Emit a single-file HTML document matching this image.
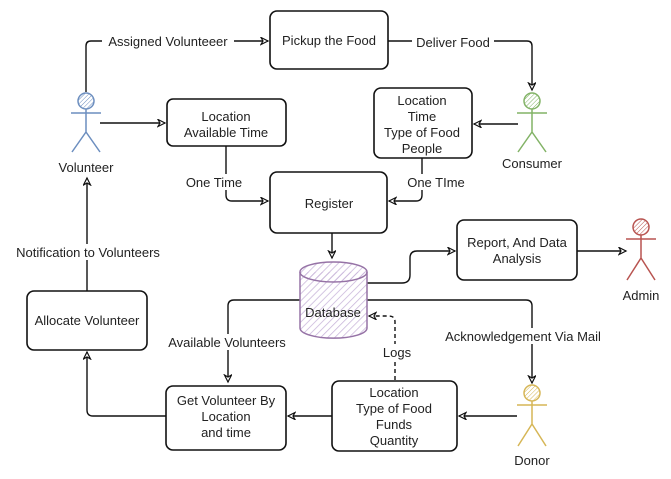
<!DOCTYPE html>
<html><head><meta charset="utf-8"><style>
html,body{margin:0;padding:0;background:#fff}
svg{display:block}
text{font-family:"Liberation Sans",sans-serif;font-size:13px;fill:#222;text-anchor:middle}
.b{fill:#fff;stroke:#111;stroke-width:1.6}
.l{fill:none;stroke:#111;stroke-width:1.4}
.lb{fill:#fff;stroke:none}
</style></head><body>
<svg width="671" height="479" viewBox="0 0 671 479" xmlns="http://www.w3.org/2000/svg">
<defs>
<marker id="a" markerWidth="10" markerHeight="10" refX="8" refY="4" orient="auto" markerUnits="userSpaceOnUse">
<path d="M1,0.5 L8,4 L1,7.5 L3,4 Z" fill="#fff" stroke="#111" stroke-width="1.2"/></marker>
<pattern id="hp" width="5" height="5" patternUnits="userSpaceOnUse" patternTransform="rotate(45)"><line x1="0" y1="0" x2="0" y2="5" stroke="#c7b3d9" stroke-width="1.5"/></pattern>
<pattern id="hb" width="3" height="3" patternUnits="userSpaceOnUse" patternTransform="rotate(45)"><line x1="0" y1="0" x2="0" y2="3" stroke="#6c8ebf" stroke-width="1"/></pattern>
<pattern id="hg" width="3" height="3" patternUnits="userSpaceOnUse" patternTransform="rotate(45)"><line x1="0" y1="0" x2="0" y2="3" stroke="#82b366" stroke-width="1"/></pattern>
<pattern id="hr" width="3" height="3" patternUnits="userSpaceOnUse" patternTransform="rotate(45)"><line x1="0" y1="0" x2="0" y2="3" stroke="#b85450" stroke-width="1"/></pattern>
<pattern id="hy" width="3" height="3" patternUnits="userSpaceOnUse" patternTransform="rotate(45)"><line x1="0" y1="0" x2="0" y2="3" stroke="#d6b656" stroke-width="1"/></pattern>
</defs>

<path class="l" d="M86,92 V46 Q86,41 91,41 H268" marker-end="url(#a)"/>
<rect class="lb" x="102" y="33" width="132" height="16"/>
<text x="168" y="46">Assigned Volunteeer</text>
<path class="l" d="M388,41 H527 Q532,41 532,46 V90" marker-end="url(#a)"/>
<rect class="lb" x="412" y="34" width="82" height="16"/>
<text x="453" y="47">Deliver Food</text>
<path class="l" d="M100,123 H165" marker-end="url(#a)"/>
<path class="l" d="M518,124 H474" marker-end="url(#a)"/>
<path class="l" d="M226,146 V195 Q226,201 232,201 H268" marker-end="url(#a)"/>
<rect class="lb" x="184" y="174" width="62" height="16"/>
<text x="214" y="187">One Time</text>
<path class="l" d="M422,158 V195 Q422,201 416,201 H389" marker-end="url(#a)"/>
<rect class="lb" x="403" y="174" width="67" height="16"/>
<text x="436" y="187">One TIme</text>
<path class="l" d="M332,233 V258" marker-end="url(#a)"/>
<path class="l" d="M367,283 H402 Q410,283 410,275 V258 Q410,251 417,251 H455" marker-end="url(#a)"/>
<path class="l" d="M577,251 H626" marker-end="url(#a)"/>
<path class="l" d="M300,300 H234 Q228,300 228,306 V382" marker-end="url(#a)"/>
<rect class="lb" x="161" y="334" width="132" height="16"/>
<text x="227" y="347">Available Volunteers</text>
<path class="l" d="M367,300 H526 Q532,300 532,306 V383" marker-end="url(#a)"/>
<rect class="lb" x="436" y="328" width="174" height="16"/>
<text x="523" y="341">Acknowledgement Via Mail</text>
<path class="l" d="M517,416 H459" marker-end="url(#a)"/>
<path class="l" d="M332,416 H288" marker-end="url(#a)"/>
<path class="l" d="M395,380 V322 Q395,316 389,316 H369" stroke-dasharray="4,3" marker-end="url(#a)"/>
<rect class="lb" x="380" y="344" width="34" height="16"/>
<text x="397" y="357">Logs</text>
<path class="l" d="M166,416 H93 Q87,416 87,410 V352" marker-end="url(#a)"/>
<path class="l" d="M87,291 V178" marker-end="url(#a)"/>
<rect class="lb" x="8" y="244" width="162" height="16"/>
<text x="88" y="257">Notification to Volunteers</text>

<rect class="b" x="270" y="11" width="118" height="58" rx="7"/>
<text x="329" y="45">Pickup the Food</text>
<rect class="b" x="167" y="99" width="119" height="47" rx="6"/>
<text x="226" y="121">Location</text><text x="226" y="137">Available Time</text>
<rect class="b" x="374" y="88" width="98" height="70" rx="7"/>
<text x="422" y="105">Location</text><text x="422" y="121">Time</text><text x="422" y="137">Type of Food</text><text x="422" y="153">People</text>
<rect class="b" x="270" y="172" width="117" height="61" rx="7"/>
<text x="329" y="208">Register</text>
<rect class="b" x="457" y="220" width="120" height="60" rx="7"/>
<text x="517" y="247">Report, And Data</text><text x="517" y="263">Analysis</text>
<rect class="b" x="27" y="291" width="120" height="59" rx="7"/>
<text x="87" y="325">Allocate Volunteer</text>
<rect class="b" x="166" y="386" width="120" height="64" rx="7"/>
<text x="226" y="405">Get Volunteer By</text><text x="226" y="421">Location</text><text x="226" y="437">and time</text>
<rect class="b" x="332" y="381" width="125" height="70" rx="7"/>
<text x="394" y="397">Location</text><text x="394" y="413">Type of Food</text><text x="394" y="429">Funds</text><text x="394" y="445">Quantity</text>

<g stroke="#9673a6" stroke-width="1.5">
<path d="M300,272 V328 A33,10 0 0 0 367,328 V272" fill="url(#hp)"/>
<ellipse cx="333.5" cy="272" rx="33.5" ry="10" fill="url(#hp)"/>
</g>
<text x="333" y="317">Database</text>

<g fill="none" stroke-width="1.5">
<g stroke="#6c8ebf"><circle cx="86" cy="101" r="8" fill="url(#hb)"/><path d="M86,109 V132 M71,113 H101 M86,132 L72,152 M86,132 L100,152"/></g>
<g stroke="#82b366"><circle cx="532" cy="101" r="8" fill="url(#hg)"/><path d="M532,109 V132 M517,113 H547 M532,132 L518,152 M532,132 L546,152"/></g>
<g stroke="#b85450"><circle cx="641" cy="227" r="8" fill="url(#hr)"/><path d="M641,235 V258 M626,239 H656 M641,258 L627,280 M641,258 L655,280"/></g>
<g stroke="#d6b656"><circle cx="532" cy="393" r="8" fill="url(#hy)"/><path d="M532,401 V424 M517,405 H547 M532,424 L518,446 M532,424 L546,446"/></g>
</g>
<text x="86" y="172">Volunteer</text>
<text x="532" y="168">Consumer</text>
<text x="641" y="300">Admin</text>
<text x="532" y="465">Donor</text>
</svg>
</body></html>
